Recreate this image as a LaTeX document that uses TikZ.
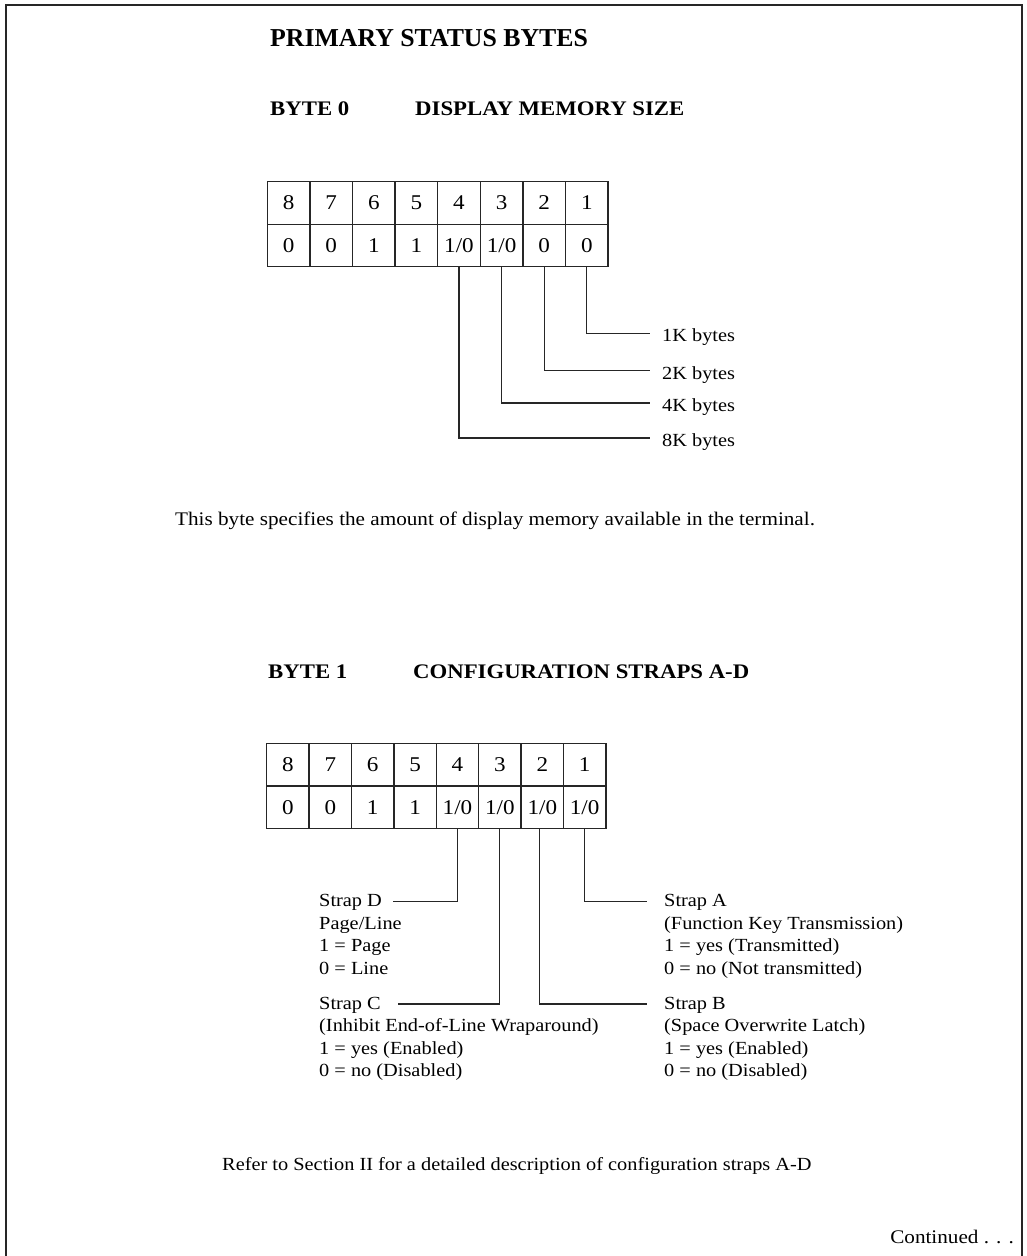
\documentclass[tikz,border=0pt]{standalone}
\usepackage{fontspec}
\setmainfont{Liberation Serif}
\newfontfamily\bodyf{Liberation Serif}[FakeStretch=1.1]
\usetikzlibrary{calc}
\newcommand\oz{1/0}
\begin{document}
\begin{tikzpicture}[x=1pt,y=-1pt,
  cell/.style={draw=black!85, line width=1.2pt, minimum width=42.5pt, minimum height=42.5pt, inner sep=0pt, font=\bodyf\fontsize{21}{25}\selectfont},
  conn/.style={draw=black!85, line width=1.15pt},
  lbl/.style={anchor=base west, inner sep=0pt, font=\bodyf\fontsize{18.5}{22.5}\selectfont},
  para/.style={anchor=base west, inner sep=0pt, font=\bodyf\fontsize{19.25}{23}\selectfont},
  head/.style={anchor=base west, inner sep=0pt, font=\bodyf\bfseries\fontsize{20.7}{24}\selectfont},
  frame/.style={draw=black!85, line width=1.8pt}
]
\useasboundingbox (0,0) rectangle (1027,1256);
\fill[white] (0,0) rectangle (1027,1256);
\draw[frame] (6,1256) -- (6,5) -- (1022,5) -- (1022,1256);

% titles
\node[anchor=base west, inner sep=0pt, font=\bfseries\fontsize{25.8}{30}\selectfont] (title) at (270,46.7) {PRIMARY STATUS BYTES};
\node[head] (b0) at (270,115) {BYTE 0};
\node[head] (b0t) at (415,115) {DISPLAY MEMORY SIZE};

% table 1
\foreach \b/\v in {8/0,7/0,6/1,5/1,4/\oz,3/\oz,2/0,1/0}{
  \node[cell] (t1a\b) at ({267.3+42.6*(8-\b)+21.3},203) {\b};
  \node[cell] (t1b\b) at ({267.3+42.6*(8-\b)+21.3},245.5) {\v};
}
\node[lbl] (k1) at (662,341.6) {1K bytes};
\node[lbl] (k2) at (662,379) {2K bytes};
\node[lbl] (k4) at (662,411.3) {4K bytes};
\node[lbl] (k8) at (662,446.3) {8K bytes};
\draw[conn] (t1b1.south) |- ([shift={(-12pt,8.3pt)}]k1.base west);
\draw[conn] (t1b2.south) |- ([shift={(-12pt,8.3pt)}]k2.base west);
\draw[conn] (t1b3.south) |- ([shift={(-12pt,8.3pt)}]k4.base west);
\draw[conn] (t1b4.south) |- ([shift={(-12pt,8.3pt)}]k8.base west);

\node[para] (desc0) at (175,525) {This byte specifies the amount of display memory available in the terminal.};

% byte 1
\node[head] (b1) at (268,678) {BYTE 1};
\node[head] (b1t) at (413,678) {CONFIGURATION STRAPS A-D};

\foreach \b/\v in {8/0,7/0,6/1,5/1,4/\oz,3/\oz,2/\oz,1/\oz}{
  \node[cell] (t2a\b) at ({266.7+42.4*(8-\b)+21.2},764.6) {\b};
  \node[cell] (t2b\b) at ({266.7+42.4*(8-\b)+21.2},807.6) {\v};
}

\node[lbl] (sD) at (319,906.7) {Strap D};
\node[lbl] (sDx) at (319,929.2) {\begin{tabular}[t]{@{}l@{}}Page/Line\\1 = Page\\0 = Line\end{tabular}};
\node[lbl] (sC) at (319,1009) {Strap C};
\node[lbl] (sCx) at (319,1031.5) {\begin{tabular}[t]{@{}l@{}}(Inhibit End-of-Line Wraparound)\\1 = yes (Enabled)\\0 = no (Disabled)\end{tabular}};
\node[lbl] (sA) at (664,906.7) {Strap A};
\node[lbl] (sAx) at (664,929.2) {\begin{tabular}[t]{@{}l@{}}(Function Key Transmission)\\1 = yes (Transmitted)\\0 = no (Not transmitted)\end{tabular}};
\node[lbl] (sB) at (664,1009) {Strap B};
\node[lbl] (sBx) at (664,1031.5) {\begin{tabular}[t]{@{}l@{}}(Space Overwrite Latch)\\1 = yes (Enabled)\\0 = no (Disabled)\end{tabular}};

\draw[conn] (t2b4.south) |- ([shift={(11pt,5pt)}]sD.base east);
\draw[conn] (t2b3.south) |- ([shift={(17pt,5pt)}]sC.base east);
\draw[conn] ([xshift=-3pt]t2b2.south) |- ([shift={(-17pt,5pt)}]sB.base west);
\draw[conn] (t2b1.south) |- ([shift={(-17pt,5pt)}]sA.base west);

\node[lbl] (ref) at (222,1170) {Refer to Section II for a detailed description of configuration straps A-D};
\node[para, anchor=base east] (cont) at (1014,1243) {Continued . . .};
\end{tikzpicture}
\end{document}
